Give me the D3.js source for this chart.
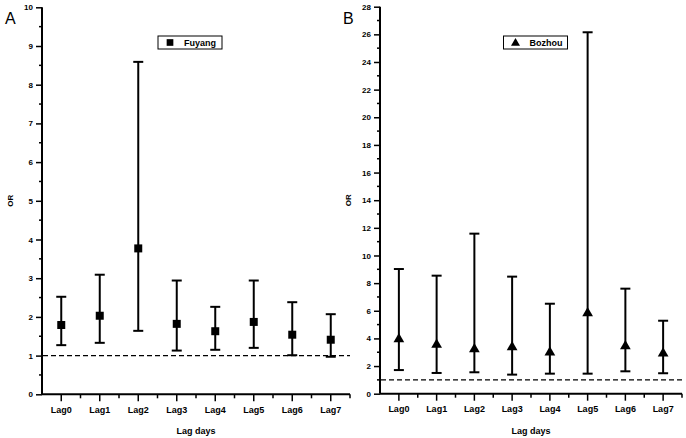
<!DOCTYPE html>
<html><head><meta charset="utf-8">
<script src="https://cdn.jsdelivr.net/npm/d3@7"></script>
<style>body{margin:0;background:#fff}svg{display:block}text{font-family:"Liberation Sans",Arial,sans-serif}</style>
</head><body>
<script>
const categories = ["Lag0","Lag1","Lag2","Lag3","Lag4","Lag5","Lag6","Lag7"];
const fuyangOR    = [1.79, 2.03, 3.77, 1.82, 1.63, 1.87, 1.54, 1.41];
const fuyangLower = [1.27, 1.33, 1.64, 1.13, 1.15, 1.20, 1.01, 0.97];
const fuyangUpper = [2.52, 3.09, 8.59, 2.94, 2.26, 2.94, 2.38, 2.07];
const bozhouOR    = [4.00, 3.60, 3.28, 3.43, 3.04, 5.89, 3.50, 2.97];
const bozhouLower = [1.71, 1.50, 1.55, 1.38, 1.45, 1.45, 1.62, 1.48];
const bozhouUpper = [9.02, 8.54, 11.58, 8.47, 6.51, 26.15, 7.60, 5.28];
const yTicksA = [0,1,2,3,4,5,6,7,8,9,10];
const yTicksB = [0,2,4,6,8,10,12,14,16,18,20,22,24,26,28];
const refLine = 1;

const W = 686, H = 438;
const svg = d3.select("body").append("svg").attr("width", W).attr("height", H);

function panel(cfg){
  const g = svg.append("g");
  const x = d3.scaleBand().domain(categories).range([cfg.x0, cfg.x1]).padding(0);
  const y = d3.scaleLinear().domain([0, cfg.ymax]).range([cfg.yb, cfg.yt]);
  const cx = c => x(c) + x.bandwidth()/2;

  // y axis
  const ya = g.append("g").attr("transform", `translate(${cfg.x0},0)`)
    .call(d3.axisLeft(y).tickValues(cfg.yticks).tickSize(6).tickPadding(3).tickFormat(d3.format("d")));
  ya.select(".domain").attr("stroke-width", 2).attr("d", `M0,${cfg.yb}V${cfg.yt}`);
  ya.selectAll(".tick line").attr("stroke-width", 1.5);
  ya.selectAll("text").attr("font-size", 8).attr("font-weight", "bold").attr("fill", "#000");
  // minor y ticks
  const minorY = cfg.yticks.slice(0, -1).map((v, i) => (v + cfg.yticks[i+1]) / 2);
  g.selectAll(".minory").data(minorY).enter().append("line")
    .attr("x1", cfg.x0).attr("x2", cfg.x0 - 3).attr("y1", d => y(d)).attr("y2", d => y(d))
    .attr("stroke", "#000").attr("stroke-width", 1.5);

  // x axis
  const xa = g.append("g").attr("transform", `translate(0,${cfg.yb})`)
    .call(d3.axisBottom(x).tickSize(7).tickPadding(5));
  xa.select(".domain").attr("stroke-width", 2).attr("d", `M${cfg.x0},0H${cfg.x1}`);
  xa.selectAll(".tick line").attr("stroke-width", 1.5);
  xa.selectAll("text").attr("font-size", 9).attr("font-weight", "bold").attr("fill", "#000");
  // minor x ticks at band edges
  const edges = categories.slice(1).map(c => x(c)).concat([cfg.x1]);
  g.selectAll(".minorx").data(edges).enter().append("line")
    .attr("x1", d => d).attr("x2", d => d).attr("y1", cfg.yb).attr("y2", cfg.yb + 4)
    .attr("stroke", "#000").attr("stroke-width", 1.5);

  // reference dashed line
  g.append("line").attr("x1", cfg.x0 + 1).attr("x2", cfg.x1).attr("y1", y(refLine)).attr("y2", y(refLine))
    .attr("stroke", "#000").attr("stroke-width", 1.3).attr("stroke-dasharray", "5,3");

  // error bars
  const cap = 5;
  categories.forEach((c, i) => {
    const xc = cx(c);
    g.append("line").attr("x1", xc).attr("x2", xc).attr("y1", y(cfg.lo[i])).attr("y2", y(cfg.hi[i]))
      .attr("stroke", "#000").attr("stroke-width", 2);
    [cfg.lo[i], cfg.hi[i]].forEach(v => {
      g.append("line").attr("x1", xc - cap).attr("x2", xc + cap).attr("y1", y(v)).attr("y2", y(v))
        .attr("stroke", "#000").attr("stroke-width", 2);
    });
  });
  // markers
  const sym = d3.symbol().type(cfg.symbol).size(cfg.symSize);
  g.selectAll(".pt").data(categories).enter().append("path")
    .attr("d", sym).attr("transform", (c, i) => `translate(${cx(c)},${y(cfg.v[i]) + cfg.symOff})`)
    .attr("fill", "#000");

  // axis titles
  g.append("text").attr("x", (cfg.x0 + cfg.x1)/2).attr("y", 434).attr("text-anchor", "middle")
    .attr("font-size", 9).attr("font-weight", "bold").text("Lag days");
  g.append("text").attr("transform", `translate(${cfg.x0 - 29},${(cfg.yt + cfg.yb)/2}) rotate(-90)`)
    .attr("text-anchor", "middle").attr("font-size", 8).attr("font-weight", "bold").text("OR");
  // panel letter
  g.append("text").attr("x", cfg.x0 - 37).attr("y", 24).attr("font-size", 16).text(cfg.letter);

  // legend
  g.append("rect").attr("x", cfg.lx).attr("y", 36).attr("width", 64).attr("height", 13)
    .attr("fill", "#fff").attr("stroke", "#000").attr("stroke-width", 1);
  g.append("path").attr("d", d3.symbol().type(cfg.symbol).size(cfg.symSize*0.7))
    .attr("transform", `translate(${cfg.lx + 12},${42.5 + cfg.symOff*0.8})`).attr("fill", "#000");
  g.append("text").attr("x", cfg.lx + 26).attr("y", 46).attr("font-size", 9).attr("font-weight", "bold").text(cfg.name);
}

panel({x0: 42, x1: 350, yb: 394.3, yt: 7.3, ymax: 10, yticks: yTicksA,
  v: fuyangOR, lo: fuyangLower, hi: fuyangUpper, symbol: d3.symbolSquare, symSize: 64, symOff: 0,
  letter: "A", lx: 158, name: "Fuyang"});
panel({x0: 380, x1: 682, yb: 393.7, yt: 6.7, ymax: 28, yticks: yTicksB,
  v: bozhouOR, lo: bozhouLower, hi: bozhouUpper, symbol: d3.symbolTriangle, symSize: 50, symOff: 0.8,
  letter: "B", lx: 503.5, name: "Bozhou"});
</script>
</body></html>
